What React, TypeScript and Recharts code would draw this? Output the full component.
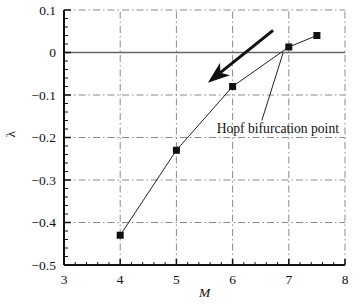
import { LineChart, Line, XAxis, YAxis, ReferenceLine } from 'recharts';

const machNumbers = [4, 5, 6, 7, 7.5];
const lambdaValues = [-0.43, -0.23, -0.08, 0.013, 0.04];
const xTicks = [3, 4, 5, 6, 7, 8];
const yTicks = [0.1, 0, -0.1, -0.2, -0.3, -0.4, -0.5];
// every 0.2 on M, every 0.02 on lambda
const xAllTicks = Array.from({ length: 26 }, (_, i) => (15 + i) / 5);
const yAllTicks = Array.from({ length: 31 }, (_, i) => (-25 + i) / 50);

// arrow pointing towards decreasing M, and the leader to the label
const arrowFrom = { x: 6.72, y: 0.052 };
const arrowTo = { x: 5.56, y: -0.071 };
const leaderFrom = { x: 6.9, y: 0 };
const leaderTo = { x: 6.52, y: -0.16 };
const hopfLabel = 'Hopf bifurcation point';

const data = machNumbers.map((m, i) => ({ m, lambda: lambdaValues[i] }));

const FONT = '"Liberation Serif", "DejaVu Serif", serif';
const GRID = { stroke: '#8a8a8a', strokeWidth: 1, strokeDasharray: '7 3 1.5 3' };

const fmt = (v: number) => (v < 0 ? '\u2212' + Math.abs(v) : String(v));
const isMajorY = (v: number) => Math.abs(v * 10 - Math.round(v * 10)) < 1e-9;

const XTick = ({ x, y, payload }: any) => {
  const v = payload.value;
  const major = Number.isInteger(v);
  return (
    <g>
      <line x1={x} y1={y} x2={x} y2={y - (major ? 6 : 3)} stroke="#111" strokeWidth={major ? 1.5 : 1} />
      {major && (
        <text x={x} y={y + 19} textAnchor="middle" fontFamily={FONT} fontSize={13.5} fill="#111">
          {fmt(v)}
        </text>
      )}
    </g>
  );
};

const YTick = ({ x, y, payload }: any) => {
  const v = payload.value;
  const major = isMajorY(v);
  return (
    <g>
      <line x1={x} y1={y} x2={x + (major ? 7 : 4)} y2={y} stroke="#111" strokeWidth={major ? 1.5 : 1} />
      {major && (
        <text x={x - 8} y={y + 4.5} textAnchor="end" fontFamily={FONT} fontSize={13.5} fill="#111">
          {fmt(Math.round(v * 10) / 10)}
        </text>
      )}
    </g>
  );
};

const SquareDot = ({ cx, cy }: any) => {
  if (cx == null || cy == null) return null;
  return <rect x={cx - 3.5} y={cy - 3.5} width={7} height={7} fill="#111" />;
};

const ArrowShape = ({ x1, y1, x2, y2 }: any) => {
  const dx = x2 - x1;
  const dy = y2 - y1;
  const len = Math.sqrt(dx * dx + dy * dy);
  const ux = dx / len;
  const uy = dy / len;
  const nx = -uy;
  const ny = ux;
  const L = 22;
  const W = 8;
  const back = L - 6;
  const pts = [
    [x2, y2],
    [x2 - L * ux + W * nx, y2 - L * uy + W * ny],
    [x2 - back * ux, y2 - back * uy],
    [x2 - L * ux - W * nx, y2 - L * uy - W * ny],
  ]
    .map((p) => p.join(','))
    .join(' ');
  return (
    <g>
      <line x1={x1} y1={y1} x2={x2 - back * ux} y2={y2 - back * uy} stroke="#111" strokeWidth={3} />
      <polygon points={pts} fill="#111" />
    </g>
  );
};

const LeaderShape = ({ x1, y1, x2, y2 }: any) => (
  <g>
    <line x1={x1} y1={y1} x2={x2} y2={y2} stroke="#222" strokeWidth={1} />
    <text x={x2 + 16} y={y2 + 12} textAnchor="middle" fontFamily={FONT} fontSize={13.6} fill="#111">
      {hopfLabel}
    </text>
  </g>
);

const App = () => {
  return (
    <div style={{ position: 'absolute', left: 0, top: 0, background: '#fff' }}>
      <LineChart width={363} height={306} data={data} margin={{ top: 10, right: 18, left: 0, bottom: 0 }}>
        {/* dash-dot grid at the major ticks */}
        {xTicks.slice(1).map((v) => (
          <ReferenceLine key={'gx' + v} x={v} {...GRID} />
        ))}
        {yTicks.filter((v) => v !== 0 && v !== -0.5).map((v) => (
          <ReferenceLine key={'gy' + v} y={v} {...GRID} />
        ))}
        <ReferenceLine y={0} stroke="#666" strokeWidth={1.5} />

        <XAxis
          dataKey="m"
          type="number"
          domain={[3, 8]}
          ticks={xAllTicks}
          interval={0}
          height={41}
          axisLine={{ stroke: '#111', strokeWidth: 2 }}
          tickLine={false}
          tickSize={0}
          tickMargin={0}
          tick={<XTick />}
          label={{ value: 'M', position: 'insideBottom', offset: 9, fontFamily: FONT, fontSize: 13.5, fontStyle: 'italic', fill: '#111' }}
        />
        <YAxis
          type="number"
          domain={[-0.5, 0.1]}
          ticks={yAllTicks}
          interval={0}
          width={64}
          axisLine={{ stroke: '#111', strokeWidth: 2 }}
          tickLine={false}
          tickSize={0}
          tickMargin={0}
          tick={<YTick />}
          label={{ value: 'λ', angle: -90, position: 'insideLeft', offset: 10, fontFamily: FONT, fontSize: 13.5, fill: '#111' }}
        />

        <ReferenceLine segment={[arrowFrom, arrowTo]} shape={ArrowShape} />
        <ReferenceLine segment={[leaderFrom, leaderTo]} shape={LeaderShape} />

        <Line
          dataKey="lambda"
          stroke="#222"
          strokeWidth={1}
          dot={<SquareDot />}
          activeDot={false}
          isAnimationActive={false}
        />
      </LineChart>
    </div>
  );
};

export default App;
